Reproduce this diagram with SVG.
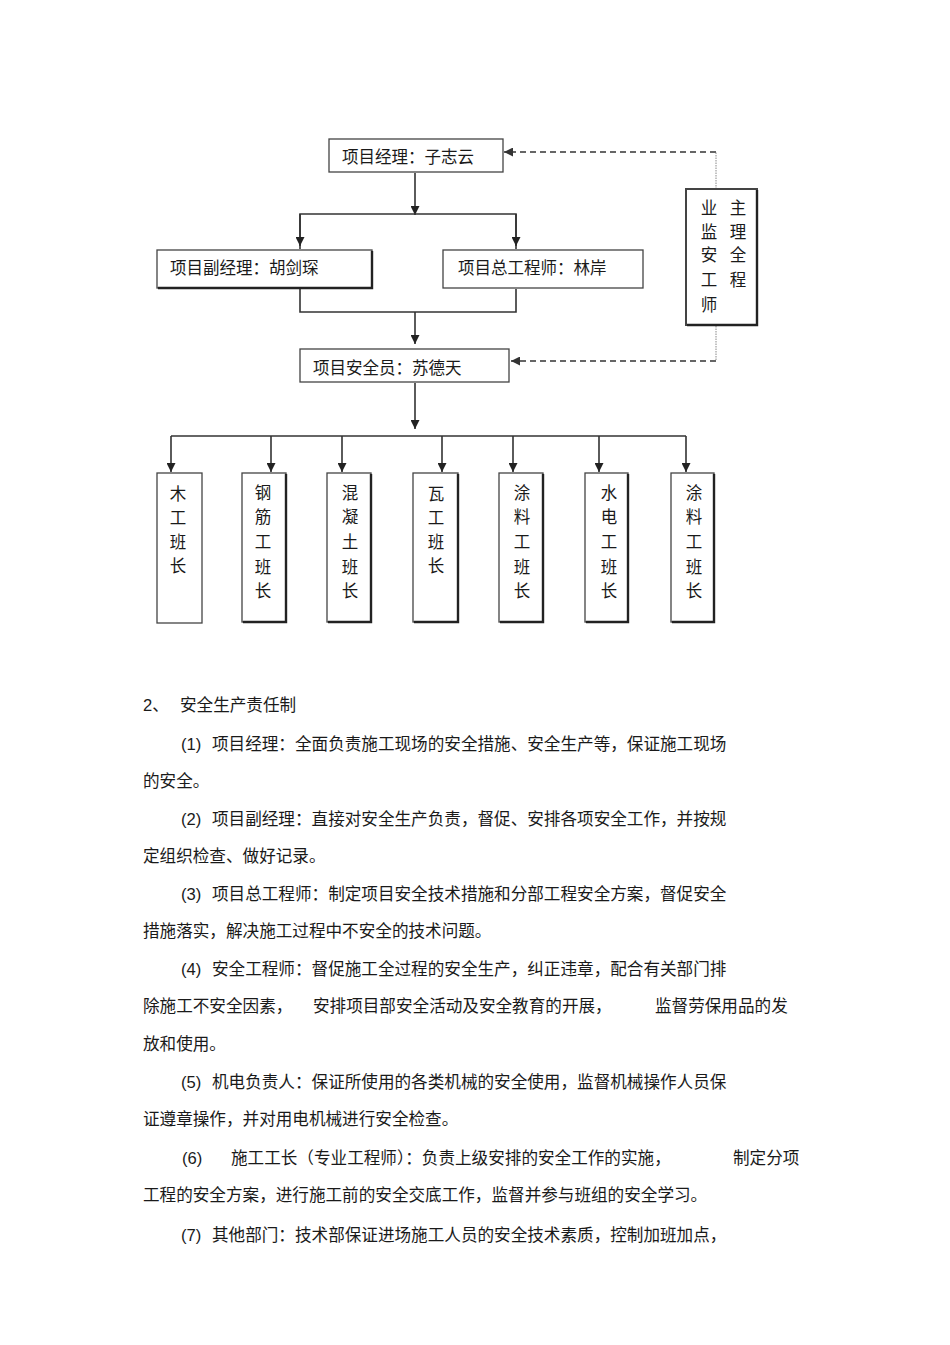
<svg xmlns="http://www.w3.org/2000/svg" width="950" height="1345" viewBox="0 0 950 1345">
<defs>
<style>
.box{fill:#fff;stroke:#444;stroke-width:1.3}
.sh{fill:none;stroke:#222;stroke-width:2.4}
.ln{fill:none;stroke:#333;stroke-width:1.6}
.dash{fill:none;stroke:#666;stroke-width:1.8;stroke-dasharray:6 4}
.dot{fill:none;stroke:#888;stroke-width:1;stroke-dasharray:1.5 1}
.t{font-family:"Noto Sans CJK SC","Liberation Sans",sans-serif;font-size:16.5px;fill:#1a1a1a}
.v{font-family:"Noto Sans CJK SC","Liberation Sans",sans-serif;font-size:16.5px;fill:#1a1a1a;text-anchor:middle}
.b{font-family:"Liberation Sans","Noto Sans CJK SC",sans-serif;font-size:16.6px;fill:#1a1a1a}
</style>
<marker id="ah" viewBox="0 0 10 10" refX="10" refY="5" markerWidth="9" markerHeight="9" markerUnits="userSpaceOnUse" orient="auto"><path d="M0,0 L10,5 L0,10 z" fill="#222"/></marker>
<marker id="ahd" viewBox="0 0 10 10" refX="10" refY="5" markerWidth="9" markerHeight="9" markerUnits="userSpaceOnUse" orient="auto"><path d="M0,0 L10,5 L0,10 z" fill="#333"/></marker>
</defs>
<rect width="950" height="1345" fill="#fff"/>

<g id="connectors">
<line class="ln" x1="415" y1="173" x2="415" y2="215" marker-end="url(#ah)"/>
<polyline class="ln" points="300,249 300,214 516,214 516,249"/>
<line class="ln" x1="300" y1="214" x2="300" y2="246" marker-end="url(#ah)"/>
<line class="ln" x1="516" y1="214" x2="516" y2="246" marker-end="url(#ah)"/>
<polyline class="ln" points="300,289 300,312 516,312 516,289"/>
<line class="ln" x1="415" y1="312" x2="415" y2="344" marker-end="url(#ah)"/>
<line class="ln" x1="415" y1="383" x2="415" y2="429" marker-end="url(#ah)"/>
<line class="ln" x1="171" y1="436" x2="686" y2="436"/>
<line class="ln" x1="171" y1="436" x2="171" y2="472" marker-end="url(#ah)"/>
<line class="ln" x1="271" y1="436" x2="271" y2="472" marker-end="url(#ah)"/>
<line class="ln" x1="342" y1="436" x2="342" y2="472" marker-end="url(#ah)"/>
<line class="ln" x1="442" y1="436" x2="442" y2="472" marker-end="url(#ah)"/>
<line class="ln" x1="513" y1="436" x2="513" y2="472" marker-end="url(#ah)"/>
<line class="ln" x1="599" y1="436" x2="599" y2="472" marker-end="url(#ah)"/>
<line class="ln" x1="686" y1="436" x2="686" y2="472" marker-end="url(#ah)"/>
<line class="dot" x1="716" y1="189" x2="716" y2="152"/>
<line class="dash" x1="716" y1="152" x2="504" y2="152" marker-end="url(#ahd)"/>
<line class="dot" x1="716" y1="326" x2="716" y2="361"/>
<line class="dash" x1="716" y1="361" x2="511" y2="361" marker-end="url(#ahd)"/>
</g>

<g id="pm">
<rect class="box" x="329" y="139" width="174" height="33"/>
<text class="t" x="342" y="163">项目经理：子志云</text>
</g>
<g id="deputy">
<rect class="box" x="157" y="250" width="215" height="38"/>
<polyline class="sh" points="372,251 372,288 158,288"/>
<text class="t" x="170" y="274">项目副经理：胡剑琛</text>
</g>
<g id="chief">
<rect class="box" x="443" y="250" width="200" height="38"/>
<text class="t" x="458" y="274">项目总工程师：林岸</text>
</g>
<g id="safety">
<rect class="box" x="300" y="349" width="209" height="33"/>
<text class="t" x="313" y="374">项目安全员：苏德天</text>
</g>
<g id="supervisor">
<rect class="box" x="686" y="189" width="71" height="136" style="stroke-width:2"/>
<polyline class="sh" points="757,190 757,325 687,325"/>
<text class="v" x="709"><tspan x="709" y="214">业</tspan><tspan x="709" y="238">监</tspan><tspan x="709" y="261">安</tspan><tspan x="709" y="286">工</tspan><tspan x="709" y="311">师</tspan></text>
<text class="v" x="738"><tspan x="738" y="214">主</tspan><tspan x="738" y="238">理</tspan><tspan x="738" y="261">全</tspan><tspan x="738" y="286">程</tspan></text>
</g>

<g id="team1">
<rect class="box" x="157" y="473" width="45" height="150"/>
<text class="v"><tspan x="178" y="500">木</tspan><tspan x="178" y="524">工</tspan><tspan x="178" y="548">班</tspan><tspan x="178" y="572">长</tspan></text>
</g>
<g id="team2">
<rect class="box" x="242" y="473" width="44" height="149"/>
<polyline class="sh" points="286,474 286,622 243,622"/>
<text class="v"><tspan x="263" y="499">钢</tspan><tspan x="263" y="523">筋</tspan><tspan x="263" y="548">工</tspan><tspan x="263" y="573">班</tspan><tspan x="263" y="597">长</tspan></text>
</g>
<g id="team3">
<rect class="box" x="327" y="473" width="44" height="149"/>
<polyline class="sh" points="371,474 371,622 328,622"/>
<text class="v"><tspan x="350" y="499">混</tspan><tspan x="350" y="523">凝</tspan><tspan x="350" y="548">土</tspan><tspan x="350" y="573">班</tspan><tspan x="350" y="597">长</tspan></text>
</g>
<g id="team4">
<rect class="box" x="413" y="473" width="45" height="149"/>
<polyline class="sh" points="458,474 458,622 414,622"/>
<text class="v"><tspan x="436" y="500">瓦</tspan><tspan x="436" y="524">工</tspan><tspan x="436" y="548">班</tspan><tspan x="436" y="572">长</tspan></text>
</g>
<g id="team5">
<rect class="box" x="499" y="473" width="44" height="149"/>
<polyline class="sh" points="543,474 543,622 500,622"/>
<text class="v"><tspan x="522" y="499">涂</tspan><tspan x="522" y="523">料</tspan><tspan x="522" y="548">工</tspan><tspan x="522" y="573">班</tspan><tspan x="522" y="597">长</tspan></text>
</g>
<g id="team6">
<rect class="box" x="585" y="473" width="43" height="149"/>
<polyline class="sh" points="628,474 628,622 586,622"/>
<text class="v"><tspan x="609" y="499">水</tspan><tspan x="609" y="523">电</tspan><tspan x="609" y="548">工</tspan><tspan x="609" y="573">班</tspan><tspan x="609" y="597">长</tspan></text>
</g>
<g id="team7">
<rect class="box" x="671" y="473" width="43" height="149"/>
<polyline class="sh" points="714,474 714,622 672,622"/>
<text class="v"><tspan x="694" y="499">涂</tspan><tspan x="694" y="523">料</tspan><tspan x="694" y="548">工</tspan><tspan x="694" y="573">班</tspan><tspan x="694" y="597">长</tspan></text>
</g>

<g id="body">
<text class="b" x="143" y="711">2、</text>
<text class="b" x="180" y="711">安全生产责任制</text>
<text class="b" x="181" y="750">(1)</text>
<text class="b" x="212" y="750">项目经理：全面负责施工现场的安全措施、安全生产等，保证施工现场</text>
<text class="b" x="143" y="787">的安全。</text>
<text class="b" x="181" y="825">(2)</text>
<text class="b" x="212" y="825">项目副经理：直接对安全生产负责，督促、安排各项安全工作，并按规</text>
<text class="b" x="143" y="862">定组织检查、做好记录。</text>
<text class="b" x="181" y="900">(3)</text>
<text class="b" x="212" y="900">项目总工程师：制定项目安全技术措施和分部工程安全方案，督促安全</text>
<text class="b" x="143" y="937">措施落实，解决施工过程中不安全的技术问题。</text>
<text class="b" x="181" y="975">(4)</text>
<text class="b" x="212" y="975">安全工程师：督促施工全过程的安全生产，纠正违章，配合有关部门排</text>
<text class="b" x="143" y="1012">除施工不安全因素，</text>
<text class="b" x="313" y="1012">安排项目部安全活动及安全教育的开展，</text>
<text class="b" x="655" y="1012">监督劳保用品的发</text>
<text class="b" x="143" y="1050">放和使用。</text>
<text class="b" x="181" y="1088">(5)</text>
<text class="b" x="212" y="1088">机电负责人：保证所使用的各类机械的安全使用，监督机械操作人员保</text>
<text class="b" x="143" y="1125">证遵章操作，并对用电机械进行安全检查。</text>
<text class="b" x="182" y="1164">(6)</text>
<text class="b" x="231" y="1164">施工工长（专业工程师）：负责上级安排的安全工作的实施，</text>
<text class="b" x="733" y="1164">制定分项</text>
<text class="b" x="143" y="1201">工程的安全方案，进行施工前的安全交底工作，监督并参与班组的安全学习。</text>
<text class="b" x="181" y="1241">(7)</text>
<text class="b" x="212" y="1241">其他部门：技术部保证进场施工人员的安全技术素质，控制加班加点，</text>
</g>
</svg>
